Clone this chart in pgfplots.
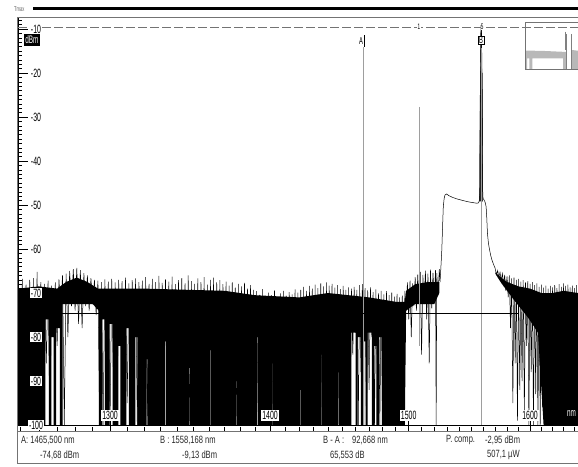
\documentclass[border=0pt]{standalone}
\usepackage{pgfplots}
\usepackage{pgfplotstable}
\pgfplotsset{compat=1.18}
\usepackage{fontspec}
\setmainfont{Liberation Sans}[FakeStretch=0.72]
\newfontfamily\tickfont{Liberation Sans}[FakeStretch=0.58]
\definecolor{mkgray}{gray}{0.62}
\definecolor{framegray}{gray}{0.45}
\definecolor{insetgray}{gray}{0.72}

\pgfplotstableread{
lambda dbm
1249 -67.4
1250 -99
1251 -66.8
1252 -95
1253 -68.1
1254 -100
1255 -67.0
1256 -91
1257 -66.6
1258 -100
1259 -65.2
1260 -97
1261 -67.5
1262 -100
1263 -67.9
1264 -86
1265 -67.2
1266 -100
1267 -68.3
1268 -78
1269 -67.6
1270 -82
1271 -66.9
1272 -74
1273 -66.0
1274 -100
1275 -65.6
1276 -80
1277 -65.0
1278 -73
1279 -64.6
1280 -74
1281 -64.3
1282 -77
1283 -64.8
1284 -78
1285 -65.5
1286 -73
1287 -66.0
1288 -74
1289 -66.6
1290 -72.5
1291 -67.0
1292 -75
1293 -67.2
1294 -100
1295 -67.5
1296 -100
1297 -66.9
1298 -84
1299 -67.4
1300 -100
1301 -66.8
1302 -90
1303 -67.6
1304 -100
1305 -67.0
1306 -79
1307 -67.3
1308 -100
1309 -66.5
1310 -95
1311 -67.8
1312 -100
1313 -67.1
1314 -88
1315 -66.7
1316 -100
1317 -67.5
1318 -100
1319 -67.2
1320 -100
1321 -66.4
1322 -98
1323 -67.9
1324 -100
1325 -66.8
1326 -96
1327 -67.5
1328 -100
1329 -66.1
1330 -100
1331 -67.7
1332 -97
1333 -66.9
1334 -100
1335 -67.4
1336 -100
1337 -66.3
1338 -94
1339 -68.0
1340 -100
1341 -67.1
1342 -100
1343 -66.6
1344 -99
1345 -67.8
1346 -100
1347 -66.0
1348 -100
1349 -67.3
1350 -96
1351 -67.9
1352 -100
1353 -66.7
1354 -100
1355 -67.5
1356 -98
1357 -66.4
1358 -100
1359 -68.1
1360 -100
1361 -67.0
1362 -95
1363 -66.5
1364 -100
1365 -67.6
1366 -100
1367 -67.1
1368 -97
1369 -68.0
1370 -100
1371 -67.4
1372 -100
1373 -68.3
1374 -99
1375 -67.6
1376 -100
1377 -68.8
1378 -100
1379 -67.9
1380 -96
1381 -68.5
1382 -100
1383 -67.7
1384 -100
1385 -69.0
1386 -98
1387 -68.2
1388 -100
1389 -69.3
1390 -100
1391 -69.6
1392 -97
1393 -70.4
1394 -100
1395 -69.1
1396 -100
1397 -70.8
1398 -95
1399 -69.9
1400 -100
1401 -70.5
1402 -100
1403 -69.4
1404 -98
1405 -70.9
1406 -100
1407 -70.1
1408 -100
1409 -69.5
1410 -96
1411 -70.6
1412 -100
1413 -69.8
1414 -100
1415 -70.3
1416 -99
1417 -69.2
1418 -100
1419 -69.9
1420 -100
1421 -69.3
1422 -97
1423 -68.6
1424 -100
1425 -69.5
1426 -100
1427 -68.4
1428 -95
1429 -69.0
1430 -100
1431 -68.1
1432 -100
1433 -68.9
1434 -98
1435 -67.8
1436 -100
1437 -68.5
1438 -100
1439 -67.6
1440 -96
1441 -68.3
1442 -100
1443 -67.9
1444 -100
1445 -68.8
1446 -99
1447 -68.2
1448 -100
1449 -69.1
1450 -100
1451 -68.4
1452 -97
1453 -69.3
1454 -100
1455 -68.7
1456 -100
1457 -69.0
1458 -84
1459 -68.6
1460 -79
1461 -69.3
1462 -100
1463 -68.2
1464 -88
1465 -68.0
1466 -80
1467 -68.9
1468 -100
1469 -69.4
1470 -92
1471 -68.7
1472 -80
1473 -69.8
1474 -100
1475 -69.2
1476 -86
1477 -70.1
1478 -100
1479 -69.5
1480 -100
1481 -70.3
1482 -100
1483 -69.6
1484 -97
1485 -70.5
1486 -100
1487 -69.9
1488 -100
1489 -70.8
1490 -98
1491 -70.2
1492 -100
1493 -71.0
1494 -100
1495 -70.6
1496 -100
1497 -69.5
1498 -74
1499 -67.6
1500 -76
1501 -67.2
1502 -80
1503 -67.8
1504 -73
1505 -66.4
1506 -74
1507 -65.8
1508 -72.5
1509 -65.2
1510 -84
1511 -65.9
1512 -72.5
1513 -64.9
1514 -76
1515 -65.6
1516 -86
1517 -64.7
1518 -73.5
1519 -65.4
1520 -71.5
1521 -64.8
1521.5 -100
1522 -65.5
1523 -70.5
1524 -64.6
1524.6 -67.5
1525.3 -64.0
1526.0 -60.2
1526.6 -55.0
1527.2 -50.4
1527.9 -48.5
1528.6 -47.7
1530.0 -47.5
1531.3 -47.8
1532.6 -48.0
1535.0 -48.3
1538.0 -48.6
1542.0 -48.9
1546.2 -49.2
1550.0 -49.4
1554.6 -49.6
1556.0 -49.5
1556.6 -49.0
1557.0 -46
1557.3 -25
1557.6 -44
1557.9 -12
1558.17 -9.13
1558.45 -12
1558.7 -38
1559.0 -20
1559.3 -46
1559.7 -48.5
1560.7 -48.9
1561.5 -49.4
1562.3 -50.4
1562.9 -53.0
1563.4 -56.4
1564.3 -58.8
1565.2 -60.2
1566.2 -61.5
1567.2 -62.5
1568.5 -63.5
1569.8 -64.3
1571 -65.8
1572 -64.9
1573 -66.4
1574 -65.3
1575 -67.2
1576 -65.6
1577 -68.0
1578 -65.9
1579 -69.5
1580 -66.2
1581 -71.0
1582 -66.0
1583 -78
1584 -66.7
1585 -95
1586 -66.5
1587 -86
1588 -67.0
1589 -99
1590 -66.8
1591 -92
1592 -67.4
1593 -90
1594 -67.1
1595 -97
1596 -67.6
1597 -82
1598 -67.3
1599 -100
1600 -67.9
1601 -88
1602 -67.5
1603 -100
1604 -68.2
1605 -93
1606 -67.8
1607 -100
1608 -68.6
1609 -100
1610 -68.1
1611 -96
1612 -68.8
1613 -100
1614 -68.3
1615 -100
1616 -69.0
1617 -98
1618 -68.4
1619 -100
1620 -68.7
1621 -100
1622 -68.2
1623 -94
1624 -68.9
1625 -100
1626 -68.0
1627 -100
1628 -68.6
1629 -97
1630 -67.8
1631 -100
1632 -68.4
1633 -100
1634 -68.1
1635 -95
1636 -68.7
1637 -100
1638 -68.3
1639 -100
1640 -68.9
1641 -99
1642 -68.2
1643 -100
}\trace

% solid black body of the noise floor: upper edge left to right, lower edge back
\pgfplotstableread{
lambda dbm
1249 -69.0
1260 -68.5
1270 -69.0
1275 -67.5
1281 -66.5
1287 -67.5
1293 -69.0
1320 -69.0
1370 -69.5
1390 -70.5
1420 -71.0
1440 -70.0
1455 -70.5
1470 -71.0
1490 -72.0
1497 -72.0
1498 -69.5
1505 -68.0
1515 -67.5
1524 -67.5
1524 -70.0
1520 -72.5
1505 -72.5
1498 -74.0
1497 -100
1479.5 -100
1479.5 -80
1477.5 -80
1477.5 -100
1475.5 -100
1475.5 -82
1474 -82
1474 -100
1472 -100
1472 -79
1469 -79
1469 -100
1467.5 -100
1467.5 -81
1466.3 -81
1466.3 -100
1464 -100
1464 -80
1461.5 -80
1461.5 -100
1460 -100
1460 -79
1457 -79
1457 -100
1448 -100
1448 -88
1447.6 -88
1447.6 -100
1436 -100
1436 -84
1435.6 -84
1435.6 -100
1421 -100
1421 -92
1420.6 -92
1420.6 -100
1402 -100
1402 -86
1401.6 -86
1401.6 -100
1392 -100
1392 -80
1391.6 -80
1391.6 -100
1378 -100
1378 -90
1377.6 -90
1377.6 -100
1361 -100
1361 -83
1360.6 -83
1360.6 -100
1348 -100
1348 -87
1347.6 -87
1347.6 -100
1333 -100
1333 -81
1332.6 -81
1332.6 -100
1322 -100
1322 -85
1321.5 -85
1321.5 -100
1316 -100
1316 -80
1314.8 -80
1314.8 -100
1311 -100
1311 -78
1309.5 -78
1309.5 -100
1306 -100
1306 -82
1304.8 -82
1304.8 -100
1301.5 -100
1301.5 -77
1299.8 -77
1299.8 -100
1297 -100
1297 -76
1295.5 -76
1295.5 -100
1293.5 -100
1293.5 -74
1290 -72.5
1273 -72.5
1273 -100
1271.5 -100
1271.5 -78
1269.5 -78
1269.5 -100
1268 -100
1268 -80
1266.8 -80
1266.8 -100
1265.5 -100
1265.5 -76
1263.5 -76
1263.5 -100
1249 -100
}\bodyA

\pgfplotstableread{
lambda dbm
1570 -65.3
1575 -66.5
1580 -67.5
1590 -68.5
1600 -69.0
1610 -70.0
1620 -70.0
1630 -69.5
1643.3 -70.0
1643.3 -100
1612 -100
1607 -79
1598 -75.5
1586 -71.6
1575 -67.7
1570 -65.6
}\bodyB

% the narrow laser line at marker B
\pgfplotstableread{
lambda dbm
1556.9 -49.2
1557.5 -20
1557.9 -11
1558.17 -9.13
1558.5 -11
1558.9 -20
1559.5 -49.2
}\peak

\tikzset{
  ylab/.style={fill=white, inner sep=1pt, font=\tickfont\fontsize{12}{12}\selectfont, anchor=center, xshift=18pt},
  xlab/.style={fill=white, inner sep=1.2pt, font=\tickfont\fontsize{12}{12}\selectfont, anchor=south, yshift=3.5pt},
  info/.style={anchor=west, inner sep=0pt, text=black!85, font=\fontsize{10.5}{12}\selectfont},
}

\begin{document}
\begin{tikzpicture}[x=1pt,y=1pt]
\useasboundingbox (0,0) rectangle (578,-466);
% header
\node[anchor=west, inner sep=0pt, text=black!60, font=\tickfont\fontsize{7}{7}\selectfont] at (14,-9) {Tmax};
\draw[line width=2.5pt] (33,-8.5) -- (578,-8.5);
\draw[framegray, line width=1pt] (17,-17.5) -- (578,-17.5);
\draw[framegray, line width=0.8pt] (17.5,-17.5) -- (17.5,-431);

\begin{axis}[
  at={(18pt,-425pt)}, anchor=south west,
  scale only axis, width=560pt, height=407pt,
  xmin=1248.7, xmax=1643.3, ymin=-100, ymax=-7.5,
  x coord trafo/.code={\pgfmathparse{-10000/#1}},
  x coord inv trafo/.code={\pgfmathparse{-10000/#1}},
  axis x line*=bottom, axis y line*=left,
  axis line style={line width=0.8pt, black},
  xtick={1300,1400,1500,1600}, xticklabels={},
  minor xtick={1250,1260,...,1640},
  ytick={-100,-90,...,-10}, yticklabels={},
  minor ytick={-99,-98,...,-8},
  tick align=inside,
  major tick length=10pt, minor tick length=4pt,
  x tick style={yshift=-6pt, black, line width=0.5pt},
  y tick style={black, line width=0.5pt},
  clip mode=individual,
]
\addplot[fill=black, draw=none] table[x=lambda, y=dbm] {\bodyA};
\addplot[fill=black, draw=none] table[x=lambda, y=dbm] {\bodyB};
\addplot[black, line width=0.5pt] table[x=lambda, y=dbm] {\trace};
\addplot[fill=black!85, draw=black, line width=0.4pt] table[x=lambda, y=dbm] {\peak};
% markers
\addplot[mkgray, line width=0.6pt] coordinates {(1465.5,-14.1) (1465.5,-100)};
\addplot[mkgray, line width=0.6pt] coordinates {(1558.168,-14.3) (1558.168,-100)};
\addplot[mkgray, line width=0.5pt] coordinates {(1508,-27.7) (1508,-82)};
\addplot[black, line width=0.7pt] coordinates {(1251.5,-74.68) (1590,-74.68)};
\addplot[framegray, line width=0.6pt, dash pattern=on 9pt off 3pt] coordinates {(1248.7,-9.55) (1643.3,-9.55)};
% marker flags
\draw[black, line width=0.6pt] (axis cs:1466.2,-11.4) -- (axis cs:1466.2,-14.1);
\node[anchor=east, inner sep=0.6pt, font=\tickfont\fontsize{10}{10}\selectfont] at (axis cs:1466.0,-12.8) {A};
\node[draw, fill=white, inner sep=0.8pt, font=\tickfont\fontsize{10}{10}\selectfont] at (axis cs:1558.0,-12.6) {B};
\node[fill=white, inner sep=0.3pt, font=\tickfont\fontsize{8}{8}\selectfont] at (axis cs:1508,-9.55) {1};
\node[fill=white, inner sep=0.3pt, font=\tickfont\fontsize{8}{8}\selectfont] at (axis cs:1559,-9.55) {5};
% tick labels
\node[ylab] at (axis cs:1248.7,-10) {-10};
\node[ylab] at (axis cs:1248.7,-20) {-20};
\node[ylab] at (axis cs:1248.7,-30) {-30};
\node[ylab] at (axis cs:1248.7,-40) {-40};
\node[ylab] at (axis cs:1248.7,-50) {-50};
\node[ylab] at (axis cs:1248.7,-60) {-60};
\node[ylab] at (axis cs:1248.7,-70) {-70};
\node[ylab] at (axis cs:1248.7,-80) {-80};
\node[ylab] at (axis cs:1248.7,-90) {-90};
\node[ylab] at (axis cs:1248.7,-100) {-100};
\node[xlab] at (axis cs:1300,-100) {1300};
\node[xlab] at (axis cs:1400,-100) {1400};
\node[xlab] at (axis cs:1500,-100) {1500};
\node[xlab] at (axis cs:1600,-100) {1600};
\end{axis}

% inset overview
\begin{axis}[
  at={(525pt,-69.3pt)}, anchor=south west,
  scale only axis, width=55pt, height=46.6pt,
  xmin=525, xmax=580, ymin=-69.3, ymax=-22.7,
  hide axis,
]
\addplot[fill=insetgray, draw=none] coordinates {(525,-50.5) (545,-51) (563,-51.8) (563,-58.3) (532.3,-58.3) (532.3,-69.3) (529.3,-69.3) (529.3,-58.3) (527,-58.3) (527,-69.3) (525,-69.3)};
\addplot[fill=insetgray, draw=none] coordinates {(563,-51.8) (566,-52) (566,-69.3) (563,-69.3)};
\addplot[fill=insetgray, draw=none] coordinates {(572,-50) (580,-51) (580,-69.3) (572,-69.3)};
\addplot[gray, line width=0.6pt] coordinates {(565.7,-31.7) (565.7,-50)};
\addplot[gray, line width=0.5pt] coordinates {(566.5,-34) (566.5,-69.3)};
\addplot[gray, line width=0.5pt] coordinates {(571.5,-34) (571.5,-69.3)};
\draw[framegray, line width=0.6pt] (axis cs:525,-22.7) rectangle (axis cs:585,-69.3);
\end{axis}

% labels over the plot
\node[fill=black, text=white, inner sep=1.5pt, font=\tickfont\fontsize{11}{11}\selectfont] at (32,-40) {dBm};
\node[fill=black, text=white, inner sep=1pt, font=\tickfont\fontsize{11}{11}\selectfont] at (571.5,-413.5) {nm};

% info box
\draw[framegray, line width=0.8pt] (17.5,-431) rectangle (580,-463);
\node[info] at (21,-440) {A: 1465,500\ nm};
\node[info] at (160,-440) {B : 1558,168\ nm};
\node[info] at (323,-440) {B - A :};
\node[info] at (352,-440) {92,668\ nm};
\node[info] at (446,-440) {P. comp.};
\node[info] at (485,-440) {-2,95\ dBm};
\node[info] at (40,-455) {-74,68\ dBm};
\node[info] at (182,-455) {-9,13\ dBm};
\node[info] at (330,-455) {65,553\ dB};
\node[info] at (487,-455) {507,1\ µW};
\end{tikzpicture}
\end{document}
